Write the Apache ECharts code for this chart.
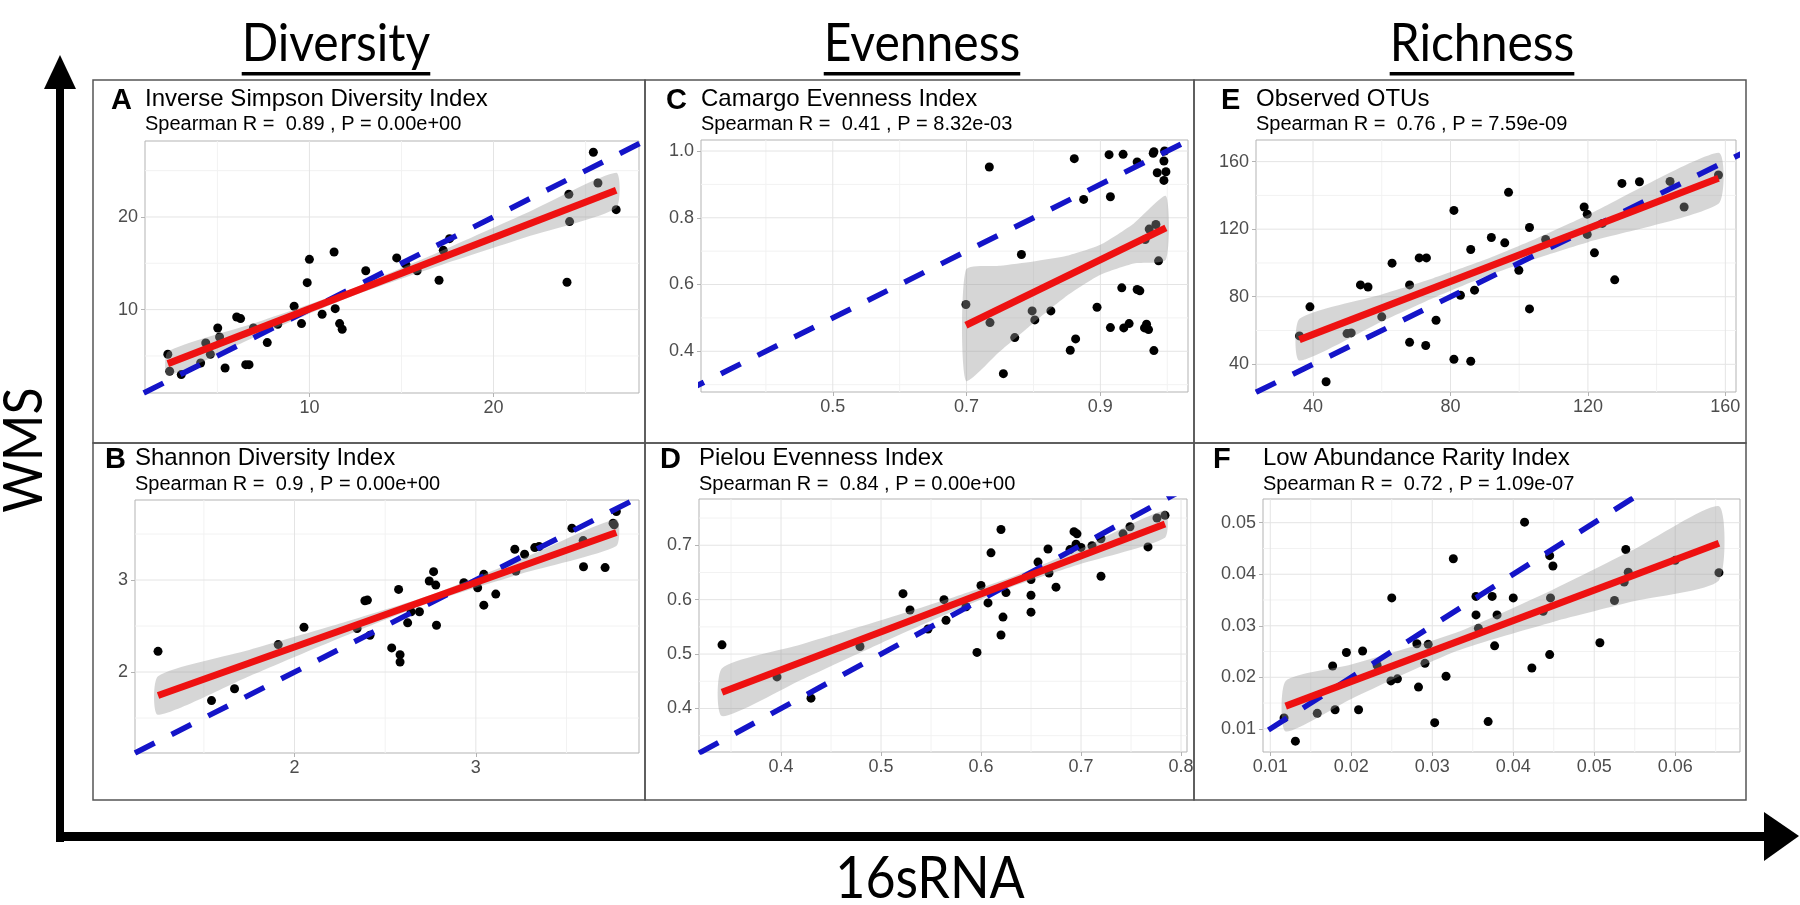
<!DOCTYPE html>
<html>
<head>
<meta charset="utf-8">
<script src="https://cdn.jsdelivr.net/npm/echarts@6/dist/echarts.min.js"></script>
<style>
html,body{margin:0;padding:0;background:#fff;}
#chart{width:1800px;height:905px;}
</style>
</head>
<body>
<div id="chart"></div>
<script>
// ---------------- DATA ----------------
// Panel A : Inverse Simpson Diversity Index
const A_title = 'Inverse Simpson Diversity Index';
const A_stat = 'Spearman R =  0.89 , P = 0.00e+00';
const A_x = [2.31,2.41,3.04,4.09,4.37,4.62,5.02,5.12,5.42,6.05,6.26,6.54,6.72,6.96,7.71,8.28,9.17,9.57,9.88,10.0,10.69,11.34,11.40,11.64,11.78,13.06,14.74,15.24,15.85,17.04,17.27,17.61,23.99,24.09,24.13,25.42,25.67,26.66];
const A_y = [5.18,3.35,2.99,4.24,6.40,5.18,8.02,7.05,3.70,9.20,9.03,4.06,4.06,8.02,6.44,8.42,10.36,8.49,12.91,15.43,9.50,16.22,10.10,8.49,7.88,14.20,15.58,14.86,14.20,13.17,16.40,17.66,12.95,22.45,19.50,26.98,23.67,20.79];
const A_fit = [[2.31,4.17],[26.66,22.88]];
const A_bandX = [2.31,7,12,17,22,26.66];
const A_bandLo = [2.88,7.02,11.21,14.70,17.96,20.97];
const A_bandHi = [5.46,8.52,12.01,16.20,20.62,24.77];
const A_xRange = [1.07,27.9], A_yRange = [1.0,28.2];
const A_xMajor = [10,20], A_xLabels = ['10','20'], A_xMinor = [5,15,25];
const A_yMajor = [10,20], A_yLabels = ['10','20'], A_yMinor = [5,15,25];

// Panel B : Shannon Diversity Index
const B_title = 'Shannon Diversity Index';
const B_stat = 'Spearman R =  0.9 , P = 0.00e+00';
const B_x = [1.247,1.542,1.669,1.910,2.052,2.345,2.388,2.402,2.416,2.536,2.574,2.582,2.582,2.624,2.643,2.689,2.743,2.767,2.779,2.783,2.934,3.010,3.044,3.044,3.110,3.215,3.221,3.269,3.325,3.349,3.530,3.592,3.594,3.713,3.757,3.763,3.775];
const B_y = [2.225,1.690,1.818,2.298,2.487,2.473,2.775,2.782,2.400,2.262,2.898,2.189,2.109,2.535,2.655,2.655,2.989,3.091,2.945,2.509,2.971,2.916,3.062,2.727,2.847,3.335,3.098,3.280,3.353,3.364,3.564,3.429,3.145,3.135,3.618,3.600,3.745];
const B_fit = [[1.247,1.745],[3.775,3.516]];
const B_bandX = [1.247,1.75,2.25,2.75,3.25,3.775];
const B_bandLo = [1.535,1.954,2.369,2.758,3.069,3.371];
const B_bandHi = [1.955,2.240,2.527,2.838,3.227,3.661];
const B_xRange = [1.12,3.90], B_yRange = [1.12,3.87];
const B_xMajor = [2,3], B_xLabels = ['2','3'], B_xMinor = [1.5,2.5,3.5];
const B_yMajor = [2,3], B_yLabels = ['2','3'], B_yMinor = [1.5,2.5,3.5];

// Panel C : Camargo Evenness Index
const C_title = 'Camargo Evenness Index';
const C_stat = 'Spearman R =  0.41 , P = 8.32e-03';
const C_x = [0.699,0.734,0.735,0.755,0.772,0.782,0.798,0.802,0.826,0.855,0.861,0.863,0.875,0.895,0.913,0.915,0.915,0.932,0.934,0.935,0.943,0.955,0.955,0.959,0.967,0.966,0.969,0.972,0.973,0.980,0.980,0.983,0.985,0.987,0.995,0.996,0.995,0.998,0.979];
const C_y = [0.540,0.952,0.486,0.333,0.441,0.690,0.521,0.494,0.521,0.403,0.977,0.437,0.855,0.532,0.989,0.863,0.471,0.590,0.990,0.470,0.483,0.967,0.585,0.581,0.735,0.470,0.481,0.465,0.766,0.402,0.998,0.780,0.935,0.671,0.970,1.000,0.912,0.938,0.993];
const C_fit = [[0.699,0.478],[0.998,0.770]];
const C_bandX = [0.699,0.75,0.8,0.85,0.9,0.95,0.998];
const C_bandLo = [0.312,0.400,0.485,0.566,0.629,0.663,0.675];
const C_bandHi = [0.644,0.656,0.669,0.686,0.719,0.783,0.865];
const C_xRange = [0.303,1.031], C_yRange = [0.278,1.033];
const C_xMajor = [0.5,0.7,0.9], C_xLabels = ['0.5','0.7','0.9'], C_xMinor = [0.4,0.6,0.8,1.0];
const C_yMajor = [0.4,0.6,0.8,1.0], C_yLabels = ['0.4','0.6','0.8','1.0'], C_yMinor = [0.3,0.5,0.7,0.9];

// Panel D : Pielou Evenness Index
const D_title = 'Pielou Evenness Index';
const D_stat = 'Spearman R =  0.84 , P = 0.00e+00';
const D_x = [0.341,0.396,0.430,0.479,0.522,0.529,0.547,0.563,0.565,0.585,0.596,0.600,0.607,0.610,0.620,0.620,0.622,0.625,0.650,0.650,0.650,0.657,0.667,0.668,0.675,0.689,0.693,0.696,0.695,0.700,0.711,0.720,0.720,0.742,0.749,0.767,0.776,0.784];
const D_y = [0.517,0.458,0.419,0.514,0.611,0.581,0.546,0.600,0.562,0.587,0.503,0.626,0.594,0.686,0.729,0.535,0.568,0.613,0.608,0.577,0.637,0.669,0.693,0.649,0.623,0.692,0.725,0.721,0.702,0.696,0.699,0.712,0.643,0.721,0.734,0.697,0.750,0.755];
const D_fit = [[0.341,0.430],[0.784,0.739]];
const D_bandX = [0.341,0.42,0.5,0.58,0.63,0.7,0.784];
const D_bandLo = [0.386,0.4525,0.520,0.585,0.623,0.666,0.714];
const D_bandHi = [0.474,0.5175,0.562,0.609,0.641,0.694,0.764];
const D_xRange = [0.318,0.806], D_yRange = [0.32,0.785];
const D_xMajor = [0.4,0.5,0.6,0.7,0.8], D_xLabels = ['0.4','0.5','0.6','0.7','0.8'], D_xMinor = [0.35,0.45,0.55,0.65,0.75];
const D_yMajor = [0.4,0.5,0.6,0.7], D_yLabels = ['0.4','0.5','0.6','0.7'], D_yMinor = [0.35,0.45,0.55,0.65,0.75];

// Panel E : Observed OTUs
const E_title = 'Observed OTUs';
const E_stat = 'Spearman R =  0.76 , P = 7.59e-09';
const E_x = [36.05,39.1,43.8,49.9,51.1,53.8,56.0,60.0,63.0,68.1,68.1,70.9,73.0,72.8,75.8,81.0,81.0,82.9,85.9,85.9,87.0,91.9,95.8,96.9,99.9,103.0,103.0,107.7,118.9,119.8,119.8,121.9,124.2,127.8,129.9,135.0,143.9,148.0,158.0];
const E_y = [56.8,74.0,29.7,58.2,58.6,87.0,85.8,68.1,99.9,87.0,53.0,103.0,103.0,51.1,66.1,131.1,43.0,80.9,108.0,41.8,83.9,115.1,111.9,141.8,95.7,121.0,72.8,113.9,133.1,128.9,116.9,106.0,123.4,90.0,147.1,148.1,148.3,133.1,152.1];
const E_fit = [[36.05,54.6],[158.0,150.1]];
const E_bandX = [36.05,60,75,90,105,120,158];
const E_bandLo = [42.2,65.3,79.2,91.85,102.7,112.3,135.0];
const E_bandHi = [67.0,81.4,91.0,101.85,114.5,128.4,165.2];
const E_xRange = [23.4,163.1], E_yRange = [23.6,172.8];
const E_xMajor = [40,80,120,160], E_xLabels = ['40','80','120','160'], E_xMinor = [60,100,140];
const E_yMajor = [40,80,120,160], E_yLabels = ['40','80','120','160'], E_yMinor = [60,100,140];

// Panel F : Low Abundance Rarity Index
const F_title = 'Low Abundance Rarity Index';
const F_stat = 'Spearman R =  0.72 , P = 1.09e-07';
const F_x = [0.0414,0.0326,0.0445,0.0449,0.0539,0.0542,0.0537,0.0600,0.0654,0.0250,0.0354,0.0374,0.0400,0.0446,0.0354,0.0380,0.0357,0.0437,0.0525,0.0281,0.0295,0.0377,0.0507,0.0445,0.0194,0.0214,0.0177,0.0232,0.0291,0.0423,0.0249,0.0257,0.0317,0.0283,0.0117,0.0131,0.0158,0.0180,0.0209,0.0303,0.0369];
const F_y = [0.0501,0.0430,0.0436,0.0416,0.0448,0.0404,0.0385,0.0427,0.0403,0.0354,0.0357,0.0357,0.0354,0.0354,0.0321,0.0321,0.0295,0.0328,0.0349,0.0265,0.0264,0.0261,0.0267,0.0244,0.0248,0.0251,0.0222,0.0223,0.0227,0.0218,0.0193,0.0197,0.0202,0.0181,0.0121,0.0076,0.0130,0.0137,0.0137,0.0112,0.0114];
const F_fit = [[0.0119,0.0144],[0.0654,0.0460]];
const F_bandX = [0.0119,0.02,0.033,0.045,0.055,0.0654];
const F_bandLo = [0.0095,0.0158,0.0251,0.0308,0.0348,0.0388];
const F_bandHi = [0.0193,0.0225,0.0287,0.0371,0.0449,0.0532];
const F_xRange = [0.0091,0.068], F_yRange = [0.0055,0.0546];
const F_xMajor = [0.01,0.02,0.03,0.04,0.05,0.06], F_xLabels = ['0.01','0.02','0.03','0.04','0.05','0.06'], F_xMinor = [0.015,0.025,0.035,0.045,0.055,0.065];
const F_yMajor = [0.01,0.02,0.03,0.04,0.05], F_yLabels = ['0.01','0.02','0.03','0.04','0.05'], F_yMinor = [0.015,0.025,0.035,0.045];

// Column headers and axis names
const headers = ['Diversity','Evenness','Richness'];
const yName = 'WMS';
const xName = '16sRNA';

// ---------------- LAYOUT ----------------
const panels = [
  {L:'A', title:A_title, stat:A_stat, x:A_x, y:A_y, fit:A_fit, bx:A_bandX, blo:A_bandLo, bhi:A_bandHi, xr:A_xRange, yr:A_yRange, xMaj:A_xMajor, xLab:A_xLabels, xMin:A_xMinor, yMaj:A_yMajor, yLab:A_yLabels, yMin:A_yMinor},
  {L:'B', title:B_title, stat:B_stat, x:B_x, y:B_y, fit:B_fit, bx:B_bandX, blo:B_bandLo, bhi:B_bandHi, xr:B_xRange, yr:B_yRange, xMaj:B_xMajor, xLab:B_xLabels, xMin:B_xMinor, yMaj:B_yMajor, yLab:B_yLabels, yMin:B_yMinor},
  {L:'C', title:C_title, stat:C_stat, x:C_x, y:C_y, fit:C_fit, bx:C_bandX, blo:C_bandLo, bhi:C_bandHi, xr:C_xRange, yr:C_yRange, xMaj:C_xMajor, xLab:C_xLabels, xMin:C_xMinor, yMaj:C_yMajor, yLab:C_yLabels, yMin:C_yMinor},
  {L:'D', title:D_title, stat:D_stat, x:D_x, y:D_y, fit:D_fit, bx:D_bandX, blo:D_bandLo, bhi:D_bandHi, xr:D_xRange, yr:D_yRange, xMaj:D_xMajor, xLab:D_xLabels, xMin:D_xMinor, yMaj:D_yMajor, yLab:D_yLabels, yMin:D_yMinor},
  {L:'E', title:E_title, stat:E_stat, x:E_x, y:E_y, fit:E_fit, bx:E_bandX, blo:E_bandLo, bhi:E_bandHi, xr:E_xRange, yr:E_yRange, xMaj:E_xMajor, xLab:E_xLabels, xMin:E_xMinor, yMaj:E_yMajor, yLab:E_yLabels, yMin:E_yMinor},
  {L:'F', title:F_title, stat:F_stat, x:F_x, y:F_y, fit:F_fit, bx:F_bandX, blo:F_bandLo, bhi:F_bandHi, xr:F_xRange, yr:F_yRange, xMaj:F_xMajor, xLab:F_xLabels, xMin:F_xMinor, yMaj:F_yMajor, yLab:F_yLabels, yMin:F_yMinor}
];
// plot rect [x0,y0,x1,y1], letter x, title y, subtitle y
const geo = {
  A:{plot:[145,141,639,393], lx:111, ty:99, sy:124},
  B:{plot:[135,500,639,753], lx:105, ty:458, sy:484},
  C:{plot:[701,140,1188,392], lx:666, ty:99, sy:124},
  D:{plot:[699,499,1187,752], lx:660, ty:458, sy:484},
  E:{plot:[1256,140,1736,392], lx:1221, ty:99, sy:124},
  F:{plot:[1263,499,1740,752], lx:1213, ty:458, sy:484}
};
const boxes = [[93,80,645,443],[93,443,645,800],[645,80,1194,443],[645,443,1194,800],[1194,80,1746,443],[1194,443,1746,800]];
const headerPos = [[336,44],[922,44],[1482,44]];

const TXT = '#4D4D4D';
const SANS = 'Liberation Sans, Arial, sans-serif';
const HUM = 'Lato, Open Sans, sans-serif';

const chart = echarts.init(document.getElementById('chart'), null, {renderer:'canvas'});

const grids = [], xAxes = [], yAxes = [], series = [], graphics = [];

function lab(maj, labs){ return function(v){ for (let i=0;i<maj.length;i++){ if (Math.abs(v-maj[i])<1e-9) return labs[i]; } return ''; }; }

panels.forEach(function(p, i){
  const g = geo[p.L];
  grids.push({left:g.plot[0], top:g.plot[1], width:g.plot[2]-g.plot[0], height:g.plot[3]-g.plot[1],
    show:true, backgroundColor:'#fff', borderColor:'#B3B3B3', borderWidth:1, containLabel:false});
  xAxes.push({gridIndex:i, type:'value', min:p.xr[0], max:p.xr[1],
    axisLine:{show:false}, splitLine:{show:false},
    axisTick:{show:true, length:4, customValues:p.xMaj, lineStyle:{color:'#B3B3B3'}},
    axisLabel:{customValues:p.xMaj, formatter:lab(p.xMaj,p.xLab), color:TXT, fontSize:18, fontFamily:SANS, margin:6, hideOverlap:false}});
  yAxes.push({gridIndex:i, type:'value', min:p.yr[0], max:p.yr[1],
    axisLine:{show:false}, splitLine:{show:false},
    axisTick:{show:true, length:4, customValues:p.yMaj, lineStyle:{color:'#B3B3B3'}},
    axisLabel:{customValues:p.yMaj, formatter:lab(p.yMaj,p.yLab), color:TXT, fontSize:18, fontFamily:SANS, margin:7, hideOverlap:false}});

  // grid lines (major + minor) from tick arrays
  series.push({type:'custom', xAxisIndex:i, yAxisIndex:i, z:1, silent:true, clip:true,
    data:[[p.xr[0], p.yr[0]]],
    renderItem:function(params, api){
      const ch = [];
      function vline(v, c, w){ const a=api.coord([v,p.yr[0]]), b=api.coord([v,p.yr[1]]); ch.push({type:'line', shape:{x1:a[0],y1:a[1],x2:b[0],y2:b[1]}, style:{stroke:c, lineWidth:w}}); }
      function hline(v, c, w){ const a=api.coord([p.xr[0],v]), b=api.coord([p.xr[1],v]); ch.push({type:'line', shape:{x1:a[0],y1:a[1],x2:b[0],y2:b[1]}, style:{stroke:c, lineWidth:w}}); }
      p.xMin.forEach(function(v){ vline(v,'#F2F2F2',1); });
      p.yMin.forEach(function(v){ hline(v,'#F2F2F2',1); });
      p.xMaj.forEach(function(v){ vline(v,'#E4E4E4',1); });
      p.yMaj.forEach(function(v){ hline(v,'#E4E4E4',1); });
      return {type:'group', children:ch};
    }});

  // points
  series.push({type:'scatter', xAxisIndex:i, yAxisIndex:i, z:2, silent:true,
    symbolSize:9, itemStyle:{color:'#000', opacity:1},
    data:p.x.map(function(v,k){ return [v, p.y[k]]; })});

  // confidence band
  series.push({type:'custom', xAxisIndex:i, yAxisIndex:i, z:3, silent:true, clip:true,
    data:[[p.bx[0], p.blo[0]]],
    renderItem:function(params, api){
      const pts = [];
      for (let k=0;k<p.bx.length;k++) pts.push(api.coord([p.bx[k], p.bhi[k]]));
      for (let k=p.bx.length-1;k>=0;k--) pts.push(api.coord([p.bx[k], p.blo[k]]));
      return {type:'polygon', shape:{points:pts, smooth:0.2}, style:{fill:'rgba(153,153,153,0.4)'}};
    }});

  // identity line y = x
  const lo = Math.min(p.xr[0], p.yr[0]), hi = Math.max(p.xr[1], p.yr[1]);
  series.push({type:'line', xAxisIndex:i, yAxisIndex:i, z:4, silent:true, clip:true, symbol:'none',
    lineStyle:{color:'#1414C8', width:5.5, type:[22,19], cap:'butt'},
    data:[[lo,lo],[hi,hi]]});

  // regression line
  series.push({type:'line', xAxisIndex:i, yAxisIndex:i, z:5, silent:true, clip:true, symbol:'none',
    lineStyle:{color:'#EE1111', width:7},
    data:p.fit});

  // letter, title, subtitle
  graphics.push({type:'text', x:g.lx, y:g.ty+2, z:10, style:{text:p.L, fontSize:29, fontWeight:'bold', fontFamily:SANS, fill:'#000', textAlign:'left', textVerticalAlign:'middle'}});
  graphics.push({type:'text', x:g.plot[0], y:g.ty, z:10, style:{text:p.title, fontSize:24, fontFamily:SANS, fill:'#000', textAlign:'left', textVerticalAlign:'middle'}});
  graphics.push({type:'text', x:g.plot[0], y:g.sy, z:10, style:{text:p.stat, fontSize:20, fontFamily:SANS, fill:'#000', textAlign:'left', textVerticalAlign:'middle'}});
});

// panel boxes
boxes.forEach(function(b){
  graphics.push({type:'rect', z:9, shape:{x:b[0], y:b[1], width:b[2]-b[0], height:b[3]-b[1]}, style:{fill:'transparent', stroke:'#555', lineWidth:1.5}});
});

// column headers with underline
const mctx = document.createElement('canvas').getContext('2d');
headers.forEach(function(h, i){
  const hp = headerPos[i];
  graphics.push({type:'text', x:hp[0], y:hp[1], scaleY:1.08, z:10, style:{text:h, fontSize:48, fontFamily:HUM, fill:'#000', textAlign:'center', textVerticalAlign:'middle'}});
  mctx.font = '48px Lato';
  const w = mctx.measureText(h).width;
  graphics.push({type:'rect', z:10, shape:{x:hp[0]-w/2, y:hp[1]+28, width:w, height:3.5}, style:{fill:'#000'}});
});

// axis arrows
graphics.push({type:'rect', z:10, shape:{x:56, y:86, width:8, height:756}, style:{fill:'#000'}});
graphics.push({type:'polygon', z:10, shape:{points:[[60,55],[44,89],[76,89]]}, style:{fill:'#000'}});
graphics.push({type:'rect', z:10, shape:{x:56, y:832, width:1712, height:9}, style:{fill:'#000'}});
graphics.push({type:'polygon', z:10, shape:{points:[[1799,836],[1764,812],[1764,861]]}, style:{fill:'#000'}});

// axis names
graphics.push({type:'text', x:24, y:450, rotation:Math.PI/2, scaleY:1.1, z:10, style:{text:yName, fontSize:50, fontFamily:HUM, fill:'#000', textAlign:'center', textVerticalAlign:'middle'}});
graphics.push({type:'text', x:930, y:880, scaleY:1.1, z:10, style:{text:xName, fontSize:52, fontFamily:HUM, fill:'#000', textAlign:'center', textVerticalAlign:'middle'}});

chart.setOption({
  animation:false,
  backgroundColor:'#fff',
  grid:grids, xAxis:xAxes, yAxis:yAxes, series:series, graphic:graphics
});
</script>
</body>
</html>
